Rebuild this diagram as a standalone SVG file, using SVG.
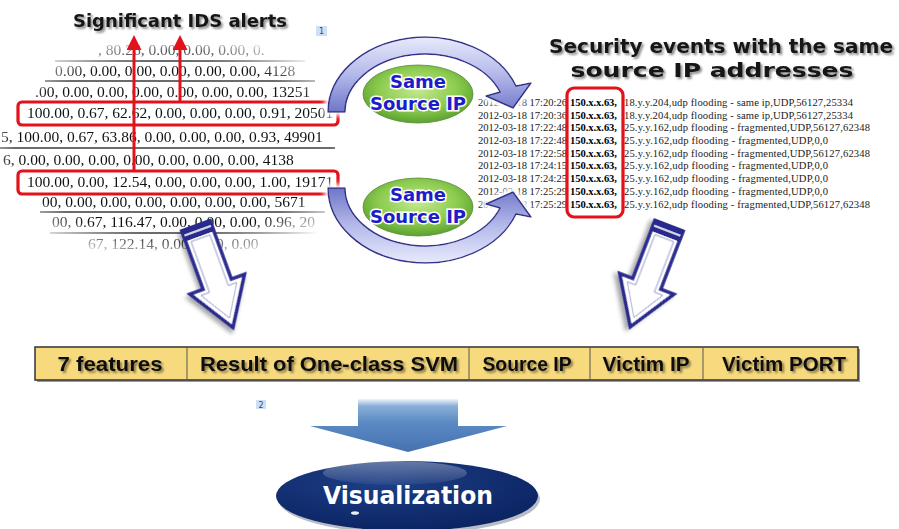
<svg xmlns="http://www.w3.org/2000/svg" width="899" height="529" viewBox="0 0 899 529">
<defs>
<style>
.tbl{font-family:"Liberation Serif","Times New Roman",serif;font-size:15.5px;fill:#111}
.log{font-family:"Liberation Serif","Times New Roman",serif;font-size:10.6px;fill:#222;white-space:pre}
.b{font-weight:bold;fill:#000}
.ttl{font-family:"DejaVu Sans",sans-serif;font-weight:bold;fill:#151515;text-anchor:middle}
.same{font-family:"DejaVu Sans",sans-serif;font-weight:bold;font-size:18px;fill:#1c1cc8;stroke:#fff;stroke-width:3;paint-order:stroke;text-anchor:middle}
.bar{font-family:"Liberation Sans",Arial,sans-serif;font-weight:bold;font-size:21px;fill:#111;text-anchor:middle}
.hr{stroke:#3a3a3a;stroke-width:1.3}
.redbox{fill:none;stroke:#e3121a;stroke-width:3.2}
.red{stroke:#e3121a;stroke-width:3;fill:none}
.num{font-family:"DejaVu Sans",sans-serif;font-size:8px;fill:#445;text-anchor:middle}
.numbox{fill:#cfe0f6}
.curve{fill:url(#curveG);stroke:#30308a;stroke-width:1.5;stroke-linejoin:round}
.green{fill:url(#greenG);stroke:#5a8a3a;stroke-width:0.8}
</style>
<filter id="tsh" x="-10%" y="-40%" width="120%" height="180%">
<feGaussianBlur in="SourceAlpha" stdDeviation="1.2"/>
<feOffset dx="1.5" dy="2" result="b"/>
<feFlood flood-color="#000" flood-opacity="0.45"/>
<feComposite in2="b" operator="in"/>
<feMerge><feMergeNode/><feMergeNode in="SourceGraphic"/></feMerge>
</filter>
<filter id="halo" x="-15%" y="-15%" width="130%" height="130%">
<feMorphology in="SourceAlpha" operator="dilate" radius="3"/>
<feGaussianBlur stdDeviation="2.5" result="b"/>
<feFlood flood-color="#fff"/>
<feComposite in2="b" operator="in"/>
<feMerge><feMergeNode/><feMergeNode in="SourceGraphic"/></feMerge>
</filter>
<filter id="dsh" x="-30%" y="-20%" width="160%" height="140%">
<feDropShadow dx="-3" dy="3" stdDeviation="2" flood-color="#000" flood-opacity="0.35"/>
</filter>
<filter id="soft" x="-5%" y="-5%" width="110%" height="110%">
<feGaussianBlur stdDeviation="0.7"/>
</filter>
<linearGradient id="curveG" gradientUnits="userSpaceOnUse" x1="425" y1="37" x2="425" y2="112">
<stop offset="0" stop-color="#e8eafb"/>
<stop offset="0.5" stop-color="#b4b9ea"/>
<stop offset="1" stop-color="#6f76c8"/>
</linearGradient>
<radialGradient id="greenG" cx="0.5" cy="0.42" r="0.6">
<stop offset="0" stop-color="#c4ea90"/>
<stop offset="0.6" stop-color="#8ccb4f"/>
<stop offset="1" stop-color="#559e2c"/>
</radialGradient>
<linearGradient id="blueG" gradientUnits="userSpaceOnUse" x1="0" y1="398" x2="0" y2="452">
<stop offset="0" stop-color="#ffffff"/>
<stop offset="0.15" stop-color="#8aaed8"/>
<stop offset="0.45" stop-color="#5b8ac4"/>
<stop offset="1" stop-color="#4672b0"/>
</linearGradient>
<radialGradient id="navyG" cx="0.4" cy="0.3" r="0.75">
<stop offset="0" stop-color="#1d3f86"/>
<stop offset="1" stop-color="#0a2260"/>
</radialGradient>
<linearGradient id="hiG" x1="0" y1="0" x2="0" y2="1">
<stop offset="0" stop-color="#fff" stop-opacity="0.35"/>
<stop offset="1" stop-color="#fff" stop-opacity="0.05"/>
</linearGradient>
<radialGradient id="fadeG" cx="0.5" cy="0.5" r="0.5">
<stop offset="0" stop-color="#fff"/>
<stop offset="0.74" stop-color="#fff"/>
<stop offset="1" stop-color="#000"/>
</radialGradient>
<mask id="tblMask" maskUnits="userSpaceOnUse" x="-50" y="28" width="440" height="240">
<rect x="-40" y="30" width="425" height="235" fill="url(#fadeG)"/>
</mask>
<marker id="redHead" viewBox="0 0 10 10" refX="2" refY="5" markerWidth="5" markerHeight="5" markerUnits="strokeWidth" orient="auto">
<path d="M0,0 L10,5 L0,10 Z" fill="#e3121a"/>
</marker>
<g id="harrow">
<path d="M-15,0 H15 V62 H29 L0,108 L-29,62 H-15 Z" fill="#fff" stroke="#2c2c8e" stroke-width="3.5"/>
<path d="M-10,13 H10 V67 H19 L0,98 L-19,67 H-10 Z" fill="none" stroke="#9a9ad0" stroke-width="1"/>
<rect x="-16.5" y="-2" width="33" height="13" fill="#2c2c8e"/>
<line x1="-14" y1="5" x2="14" y2="5" stroke="#fff" stroke-width="1.6"/>
</g>
</defs>

<rect width="899" height="529" fill="#fff"/>

<g id="title-ids">
<text class="ttl" x="180" y="27" font-size="18" textLength="214" lengthAdjust="spacingAndGlyphs" filter="url(#tsh)">Significant IDS alerts</text>
</g>

<g id="marker-1">
<rect class="numbox" x="316" y="26" width="11" height="10"/>
<text class="num" x="321.5" y="34">1</text>
</g>

<g id="ids-table" mask="url(#tblMask)">
<text class="tbl" x="98" y="55">, 80.26, 0.00, 0.00, 0.00, 0.</text>
<line class="hr" x1="55" y1="61" x2="305" y2="61"/>
<text class="tbl" x="55" y="76">0.00, 0.00, 0.00, 0.00, 0.00, 0.00, 4128</text>
<line class="hr" x1="45" y1="81" x2="315" y2="81"/>
<text class="tbl" x="35" y="97">.00, 0.00, 0.00, 0.00, 0.00, 0.00, 0.00, 13251</text>
<text class="tbl" x="27" y="118">100.00, 0.67, 62.62, 0.00, 0.00, 0.00, 0.91, 20501</text>
<text class="tbl" x="1" y="142">5, 100.00, 0.67, 63.86, 0.00, 0.00, 0.00, 0.93, 49901</text>
<line class="hr" x1="0" y1="148" x2="335" y2="148"/>
<text class="tbl" x="3" y="165">6, 0.00, 0.00, 0.00, 0.00, 0.00, 0.00, 0.00, 4138</text>
<text class="tbl" x="27" y="187">100.00, 0.00, 12.54, 0.00, 0.00, 0.00, 1.00, 19171</text>
<text class="tbl" x="42" y="207">00, 0.00, 0.00, 0.00, 0.00, 0.00, 0.00, 5671</text>
<line class="hr" x1="40" y1="212" x2="325" y2="212"/>
<text class="tbl" x="52" y="227">00, 0.67, 116.47, 0.00, 0.00, 0.00, 0.96, 20</text>
<line class="hr" x1="50" y1="233" x2="320" y2="233"/>
<text class="tbl" x="88" y="249">67, 122.14, 0.00, 0.00, 0.00</text>
</g>

<g id="alert-boxes">
<rect class="redbox" x="18" y="102" width="320" height="23" rx="4"/>
<rect class="redbox" x="18" y="171" width="320" height="23" rx="4"/>
</g>

<g id="title-events">
<text class="ttl" x="721" y="53" font-size="20" textLength="344" lengthAdjust="spacingAndGlyphs" filter="url(#tsh)">Security events with the same</text>
<text class="ttl" x="712" y="77" font-size="20" textLength="283" lengthAdjust="spacingAndGlyphs" filter="url(#tsh)">source IP addresses</text>
</g>

<g id="event-log" class="log">
<text y="106"><tspan x="478" textLength="89">2012-03-18 17:20:26</tspan><tspan x="570" class="b" textLength="47">150.x.x.63,</tspan><tspan x="624" textLength="229">18.y.y.204,udp  flooding - same ip,UDP,56127,25334</tspan></text>
<text y="119"><tspan x="478" textLength="89">2012-03-18 17:20:36</tspan><tspan x="570" class="b" textLength="47">150.x.x.63,</tspan><tspan x="624" textLength="229">18.y.y.204,udp  flooding - same ip,UDP,56127,25334</tspan></text>
<text y="131"><tspan x="478" textLength="89">2012-03-18 17:22:48</tspan><tspan x="570" class="b" textLength="47">150.x.x.63,</tspan><tspan x="624" textLength="246">25.y.y.162,udp  flooding - fragmented,UDP,56127,62348</tspan></text>
<text y="144"><tspan x="478" textLength="89">2012-03-18 17:22:48</tspan><tspan x="570" class="b" textLength="47">150.x.x.63,</tspan><tspan x="624" textLength="204">25.y.y.162,udp  flooding - fragmented,UDP,0,0</tspan></text>
<text y="157"><tspan x="478" textLength="89">2012-03-18 17:22:58</tspan><tspan x="570" class="b" textLength="47">150.x.x.63,</tspan><tspan x="624" textLength="246">25.y.y.162,udp  flooding - fragmented,UDP,56127,62348</tspan></text>
<text y="169"><tspan x="478" textLength="89">2012-03-18 17:24:15</tspan><tspan x="570" class="b" textLength="47">150.x.x.63,</tspan><tspan x="624" textLength="204">25.y.y.162,udp  flooding - fragmented,UDP,0,0</tspan></text>
<text y="182"><tspan x="478" textLength="89">2012-03-18 17:24:25</tspan><tspan x="570" class="b" textLength="47">150.x.x.63,</tspan><tspan x="624" textLength="204">25.y.y.162,udp  flooding - fragmented,UDP,0,0</tspan></text>
<text y="195"><tspan x="478" textLength="89">2012-03-18 17:25:29</tspan><tspan x="570" class="b" textLength="47">150.x.x.63,</tspan><tspan x="624" textLength="204">25.y.y.162,udp  flooding - fragmented,UDP,0,0</tspan></text>
<text y="208"><tspan x="478" textLength="89">2012-03-18 17:25:29</tspan><tspan x="570" class="b" textLength="47">150.x.x.63,</tspan><tspan x="624" textLength="246">25.y.y.162,udp  flooding - fragmented,UDP,56127,62348</tspan></text>
<rect class="redbox" x="567" y="88" width="56" height="129" rx="7"/>
</g>

<g id="connectors">
<line class="red" x1="134" y1="171" x2="134" y2="47" marker-end="url(#redHead)"/>
<line class="red" x1="180" y1="102" x2="180" y2="47" marker-end="url(#redHead)"/>
<path class="curve" filter="url(#halo)" d="M328,112 A97,75 0 0 1 516,86 L531,83 L513,108 L486,96 L500,92 A80,58 0 0 0 345,112 Z"/>
<path class="curve" filter="url(#halo)" transform="translate(0,300) scale(1,-1)" d="M328,112 A97,75 0 0 1 516,86 L531,83 L513,108 L486,96 L500,92 A80,58 0 0 0 345,112 Z"/>
<use href="#harrow" transform="translate(196,226) rotate(-20)" filter="url(#dsh)"/>
<use href="#harrow" transform="translate(669,226) rotate(21)" filter="url(#dsh)"/>
<path d="M358,399 H458 V426 H507 L408,452 L310,426 H358 Z" fill="url(#blueG)" filter="url(#soft)"/>
</g>

<g id="same-ip-top">
<ellipse class="green" cx="418" cy="94" rx="55" ry="29"/>
<text class="same" x="418" y="88">Same</text>
<text class="same" x="418" y="110">Source IP</text>
</g>

<g id="same-ip-bottom">
<ellipse class="green" cx="418" cy="207" rx="55" ry="29"/>
<text class="same" x="418" y="201">Same</text>
<text class="same" x="418" y="223">Source IP</text>
</g>

<g id="feature-bar">
<rect x="37" y="349" width="823" height="33" fill="#9a9a9a" filter="url(#soft)"/>
<rect x="35" y="347" width="823" height="33" fill="#f8da7e" stroke="#333" stroke-width="1.5"/>
<line x1="187" y1="347" x2="187" y2="380" stroke="#555" stroke-width="1"/>
<line x1="469" y1="347" x2="469" y2="380" stroke="#555" stroke-width="1"/>
<line x1="590" y1="347" x2="590" y2="380" stroke="#555" stroke-width="1"/>
<line x1="703" y1="347" x2="703" y2="380" stroke="#555" stroke-width="1"/>
<g filter="url(#tsh)">
<text class="bar" x="110" y="371" textLength="105" lengthAdjust="spacingAndGlyphs">7 features</text>
<text class="bar" x="329" y="371" textLength="258" lengthAdjust="spacingAndGlyphs">Result of One-class SVM</text>
<text class="bar" x="527" y="371" textLength="89" lengthAdjust="spacingAndGlyphs">Source IP</text>
<text class="bar" x="646" y="371" textLength="87" lengthAdjust="spacingAndGlyphs">Victim IP</text>
<text class="bar" x="784" y="371" textLength="124" lengthAdjust="spacingAndGlyphs">Victim PORT</text>
</g>
</g>

<g id="marker-2">
<rect class="numbox" x="256" y="400" width="10" height="9"/>
<text class="num" x="261" y="408">2</text>
</g>

<g id="visualization">
<ellipse cx="409" cy="499" rx="131" ry="35" fill="#b8bcc6"/>
<ellipse cx="407" cy="496" rx="131" ry="35" fill="url(#navyG)"/>
<ellipse cx="395" cy="473" rx="72" ry="12" fill="url(#hiG)"/>
<ellipse cx="355" cy="513" rx="4" ry="1.8" fill="#e8eefa"/>
<text x="408" y="504" font-family="DejaVu Sans, sans-serif" font-weight="bold" font-size="24" fill="#fff" text-anchor="middle" textLength="170" lengthAdjust="spacingAndGlyphs">Visualization</text>
</g>
</svg>
